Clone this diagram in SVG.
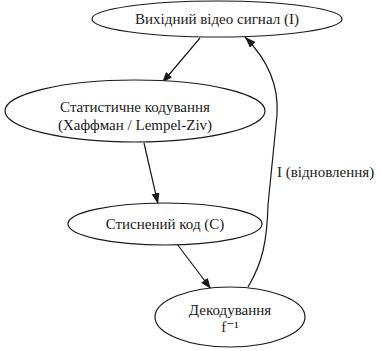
<svg xmlns="http://www.w3.org/2000/svg" width="382" height="351" viewBox="0 0 382 351">
  <style>
    .node ellipse { fill: #ffffff; stroke: #1a1a1a; stroke-width: 1.2; }
    text { font-family: "Liberation Serif", "DejaVu Serif", serif; font-size: 15px; fill: #1a1a1a; text-anchor: middle; }
    .edge { fill: none; stroke: #1a1a1a; stroke-width: 1.2; marker-end: url(#arrow); }
  </style>
  <defs>
    <marker id="arrow" markerUnits="userSpaceOnUse" markerWidth="12" markerHeight="9" refX="11" refY="4" orient="auto">
      <path d="M0,0 L11,4 L0,8 z" fill="#1a1a1a"/>
    </marker>
  </defs>
  <rect width="382" height="351" fill="#ffffff"/>

  <g id="connectors">
    <path class="edge" d="M200,38 L162,83"/>
    <path class="edge" d="M144,143 L158,204"/>
    <path class="edge" d="M177,244 L211,289"/>
    <path class="edge" d="M248,287 C263,262 267,240 268,205 L277,115 C279,85 268,60 245,37"/>
    <text x="277" y="177" style="text-anchor:start">I (відновлення)</text>
  </g>

  <g id="input" class="node">
    <ellipse cx="217" cy="19" rx="125" ry="18"/>
    <text x="217" y="24">Вихідний відео сигнал (I)</text>
  </g>

  <g id="coding" class="node">
    <ellipse cx="135" cy="111" rx="130" ry="31"/>
    <text x="135" y="112">Статистичне кодування</text>
    <text x="135" y="130">(Хаффман / Lempel-Ziv)</text>
  </g>

  <g id="compressed" class="node">
    <ellipse cx="165" cy="224" rx="97" ry="21"/>
    <text x="165" y="229">Стиснений код (C)</text>
  </g>

  <g id="decoding" class="node">
    <ellipse cx="230" cy="317" rx="75" ry="30"/>
    <text x="230" y="315">Декодування</text>
    <text x="230" y="332">f⁻¹</text>
  </g>
</svg>
